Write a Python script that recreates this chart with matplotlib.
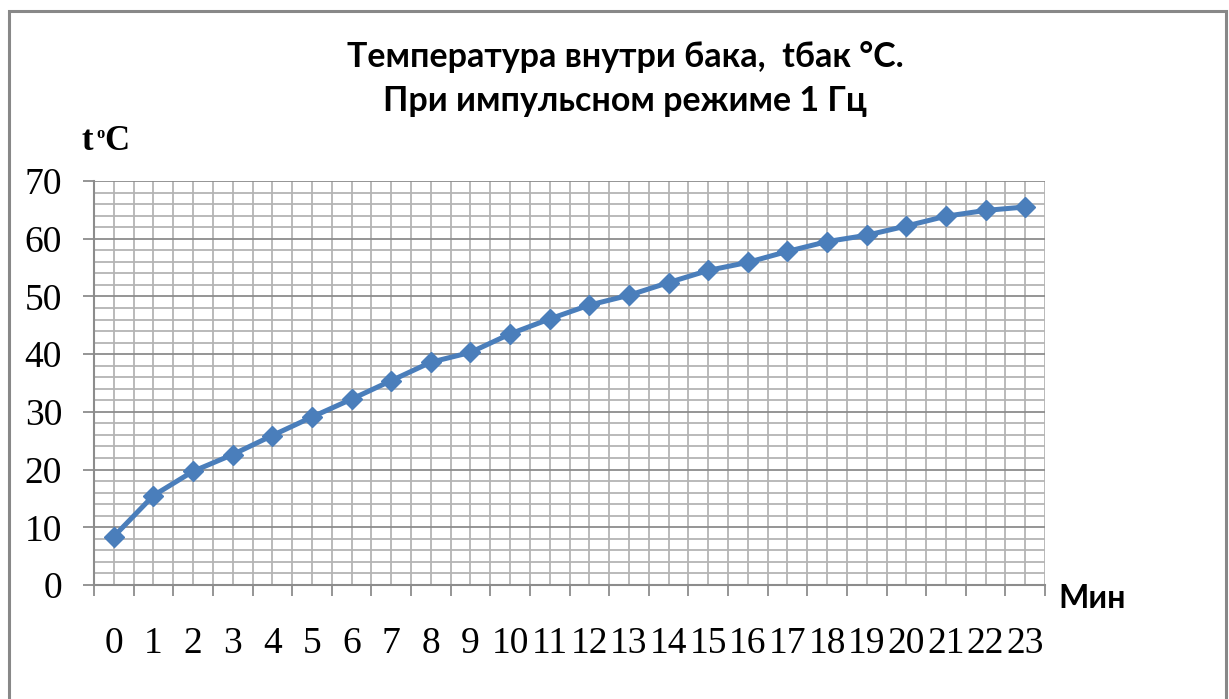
import matplotlib.pyplot as plt
from matplotlib.patches import Rectangle
import numpy as np

# время, мин и температура в баке, °C
minutes = list(range(24))
temps = [8.4, 15.5, 19.7, 22.6, 25.9, 29.1, 32.2, 35.4, 38.6, 40.3, 43.5, 46.1,
         48.5, 50.2, 52.4, 54.5, 55.9, 57.8, 59.5, 60.6, 62.2, 63.9, 64.9, 65.5]
title = 'Температура внутри бака,  tбак °C.\nПри импульсном режиме 1 Гц'

W, H = 1229, 699
fig = plt.figure(figsize=(W / 100, H / 100), dpi=100)
fig.patches.append(Rectangle((9 / W, -0.01), (1226 - 9) / W, 1.01 - 11 / H,
                             transform=fig.transFigure, fill=False,
                             edgecolor='#888888', linewidth=2.2))

ax = fig.add_axes([94 / W, 1 - 585 / H, (1045 - 94) / W, (585 - 181) / H])
n = len(minutes)
ax.set_xlim(-0.5, n - 0.5)
ax.set_ylim(0, 70)

# сетка: вертикаль через каждые полделения, горизонталь через 2 градуса
for xv in np.arange(-0.5, n, 0.5):
    ax.axvline(xv, color='#b4b4b4', lw=1.3, zorder=0)
for yv in range(0, 71, 2):
    c = '#8c8c8c' if yv % 10 == 0 else '#b4b4b4'
    ax.axhline(yv, color=c, lw=1.3, zorder=0)

ax.plot(minutes, temps, color='#4a7ebb', lw=3.6, marker='D', markersize=10,
        zorder=3, clip_on=False)

for s in ['top', 'right']:
    ax.spines[s].set_visible(False)
for s in ['left', 'bottom']:
    ax.spines[s].set_color('#8c8c8c')
    ax.spines[s].set_linewidth(1.5)

ax.set_yticks(range(0, 71, 10))
ax.tick_params(axis='y', length=8, width=1.3, color='#8c8c8c', pad=15,
               labelsize=27)
ax.set_xticks(np.arange(-0.5, n, 1.0))
ax.set_xticklabels([])
ax.set_xticks(minutes, minor=True)
ax.set_xticklabels([str(m) for m in minutes], minor=True)
ax.tick_params(axis='x', which='major', length=8, width=1.3, color='#8c8c8c')
ax.tick_params(axis='x', which='minor', length=0, pad=30, labelsize=27)
for lab in ax.get_xticklabels(minor=True) + ax.get_yticklabels():
    lab.set_family('Liberation Serif')

fig.text(625 / W, 1 - 79 / H, title, ha='center', va='center',
         fontsize=24.5, fontweight='bold', family='Lato', linespacing=1.45)
fig.text(1058 / W, 1 - 598 / H, 'Мин', ha='left', va='center',
         fontsize=23, fontweight='bold', family='Lato')

fig.text(82 / W, 1 - 150 / H, 't', ha='left', va='baseline', fontsize=25,
         fontweight='bold', family='Liberation Serif')
fig.text(96 / W, 1 - 138 / H, 'o', ha='left', va='baseline', fontsize=12,
         fontweight='bold', family='Liberation Serif')
fig.text(104 / W, 1 - 150 / H, 'C', ha='left', va='baseline', fontsize=25,
         fontweight='bold', family='Liberation Serif')

fig.savefig('out.png', dpi=100)
